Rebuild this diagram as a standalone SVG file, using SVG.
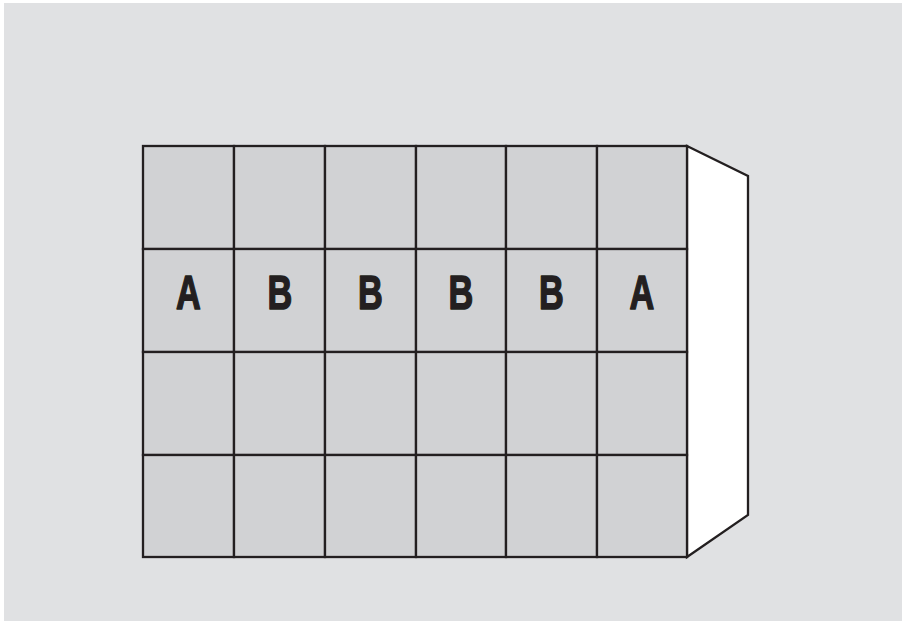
<svg xmlns="http://www.w3.org/2000/svg" width="902" height="621" viewBox="0 0 902 621">
<style>
.cell{fill:#d1d2d4;stroke:#231f20;stroke-width:2.3}
.lbl{font-family:"Liberation Sans",Arial,sans-serif;font-weight:bold;font-size:49px;fill:#231f20;stroke:#231f20;stroke-width:1.6;stroke-linejoin:round;text-anchor:middle}
</style>
<rect x="0" y="0" width="902" height="621" fill="#ffffff"/>
<rect x="4" y="3" width="898" height="618" fill="#e0e1e3"/>
<g id="side">
<polygon points="687,146 748,176 748,515 687,557" fill="#ffffff" stroke="#231f20" stroke-width="2.3" stroke-linejoin="miter"/>
</g>
<g id="grid">
<rect class="cell" x="143" y="146" width="91" height="103"/>
<rect class="cell" x="234" y="146" width="91" height="103"/>
<rect class="cell" x="325" y="146" width="91" height="103"/>
<rect class="cell" x="416" y="146" width="90" height="103"/>
<rect class="cell" x="506" y="146" width="91" height="103"/>
<rect class="cell" x="597" y="146" width="90" height="103"/>
<rect class="cell" x="143" y="249" width="91" height="103"/>
<rect class="cell" x="234" y="249" width="91" height="103"/>
<rect class="cell" x="325" y="249" width="91" height="103"/>
<rect class="cell" x="416" y="249" width="90" height="103"/>
<rect class="cell" x="506" y="249" width="91" height="103"/>
<rect class="cell" x="597" y="249" width="90" height="103"/>
<rect class="cell" x="143" y="352" width="91" height="103"/>
<rect class="cell" x="234" y="352" width="91" height="103"/>
<rect class="cell" x="325" y="352" width="91" height="103"/>
<rect class="cell" x="416" y="352" width="90" height="103"/>
<rect class="cell" x="506" y="352" width="91" height="103"/>
<rect class="cell" x="597" y="352" width="90" height="103"/>
<rect class="cell" x="143" y="455" width="91" height="102"/>
<rect class="cell" x="234" y="455" width="91" height="102"/>
<rect class="cell" x="325" y="455" width="91" height="102"/>
<rect class="cell" x="416" y="455" width="90" height="102"/>
<rect class="cell" x="506" y="455" width="91" height="102"/>
<rect class="cell" x="597" y="455" width="90" height="102"/>
</g>
<g id="labels">
<text class="lbl" transform="translate(188.5,308.5) scale(0.7,1)">A</text>
<text class="lbl" transform="translate(280,308.5) scale(0.7,1)">B</text>
<text class="lbl" transform="translate(370.5,308.5) scale(0.7,1)">B</text>
<text class="lbl" transform="translate(461,308.5) scale(0.7,1)">B</text>
<text class="lbl" transform="translate(551.5,308.5) scale(0.7,1)">B</text>
<text class="lbl" transform="translate(642,308.5) scale(0.7,1)">A</text>
</g>
<g id="connectors"></g>
</svg>
